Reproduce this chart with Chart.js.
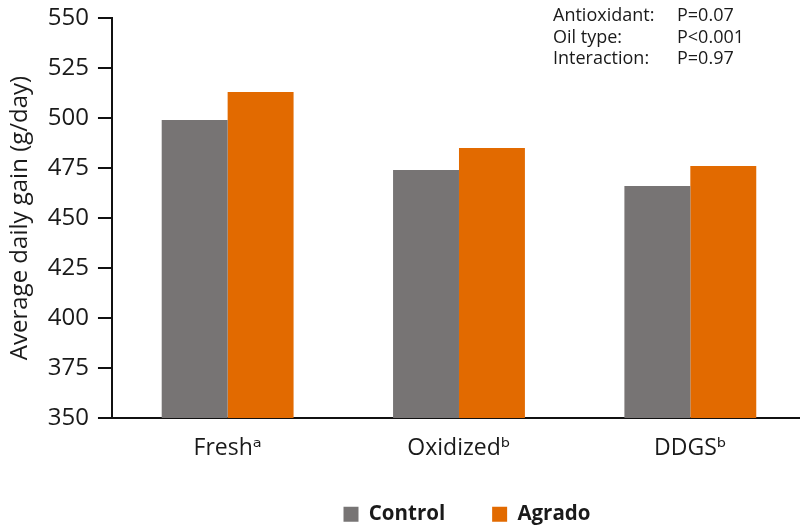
<!DOCTYPE html>
<html>
<head>
<meta charset="utf-8">
<script src="https://cdn.jsdelivr.net/npm/chart.js@4"></script>
<style>
  html, body { margin: 0; padding: 0; background: #fff; overflow: hidden; }
  #wrap { width: 806px; height: 529px; }
</style>
</head>
<body>
<div id="wrap"><canvas id="adgChart"></canvas></div>
<script>
const categories = ["Fresh\u1d43", "Oxidized\u1d47", "DDGS\u1d47"];
const controlValues = [499, 474, 466];
const agradoValues = [513, 485, 476];
const stats = [
    ["Antioxidant:", "P=0.07"],
    ["Oil type:", "P<0.001"],
    ["Interaction:", "P=0.97"],
];

const textColor = "#1a1a1a";
const fontFamily = "'Open Sans', 'DejaVu Sans', sans-serif";

// p-value block in the top right corner
const statsBox = {
    id: "statsBox",
    afterDraw(chart) {
        const ctx = chart.ctx;
        ctx.save();
        ctx.fillStyle = textColor;
        ctx.font = "18px " + fontFamily;
        ctx.textBaseline = "middle";
        stats.forEach((row, i) => {
            const y = 16 + i * 21.5;
            ctx.fillText(row[0], 553, y);
            ctx.fillText(row[1], 677, y);
        });
        ctx.restore();
    },
};

// nudge the legend a bit to the right, like the original
const legendNudge = {
    id: "legendNudge",
    afterLayout(chart) {
        if (chart.legend) {
            chart.legend.left += 8;
            chart.legend.right += 8;
        }
    },
};

const ctx = document.getElementById("adgChart");

new Chart(ctx, {
    type: "bar",
    data: {
        labels: categories,
        datasets: [
            {
                label: "Control",
                data: controlValues,
                backgroundColor: "#777474",
                categoryPercentage: 0.57,
                barPercentage: 1.0,
            },
            {
                label: "Agrado",
                data: agradoValues,
                backgroundColor: "#E26A00",
                categoryPercentage: 0.57,
                barPercentage: 1.0,
            },
        ],
    },
    options: {
        responsive: true,
        maintainAspectRatio: false,
        animation: false,
        layout: {
            padding: { top: 0, left: 6, right: 0, bottom: 0 },
        },
        plugins: {
            legend: {
                position: "bottom",
                fullSize: false,
                maxHeight: 72,
                labels: {
                    color: textColor,
                    font: { family: fontFamily, size: 20.5, weight: "bold" },
                    boxWidth: 15,
                    boxHeight: 15,
                    padding: 47,
                },
            },
            tooltip: { enabled: false },
        },
        scales: {
            x: {
                grid: { display: false, drawTicks: false },
                border: { display: true, color: "#111", width: 2 },
                ticks: {
                    color: textColor,
                    font: { family: fontFamily, size: 23 },
                    padding: 17,
                },
                afterFit: (scale) => {
                    scale.height = 39;
                },
            },
            y: {
                min: 350,
                max: 550,
                ticks: {
                    stepSize: 25,
                    color: textColor,
                    font: { family: fontFamily, size: 24 },
                    padding: 9,
                },
                grid: {
                    drawOnChartArea: false,
                    drawTicks: true,
                    tickLength: 14,
                    color: "#111",
                    lineWidth: 2,
                },
                border: { display: true, color: "#111", width: 2 },
                title: {
                    display: true,
                    text: "Average daily gain (g/day)",
                    color: textColor,
                    font: { family: fontFamily, size: 24 },
                    padding: { top: 0, bottom: 4 },
                },
                afterFit: (scale) => {
                    scale.paddingTop = 18;
                },
            },
        },
    },
    plugins: [statsBox, legendNudge],
});
</script>
</body>
</html>
